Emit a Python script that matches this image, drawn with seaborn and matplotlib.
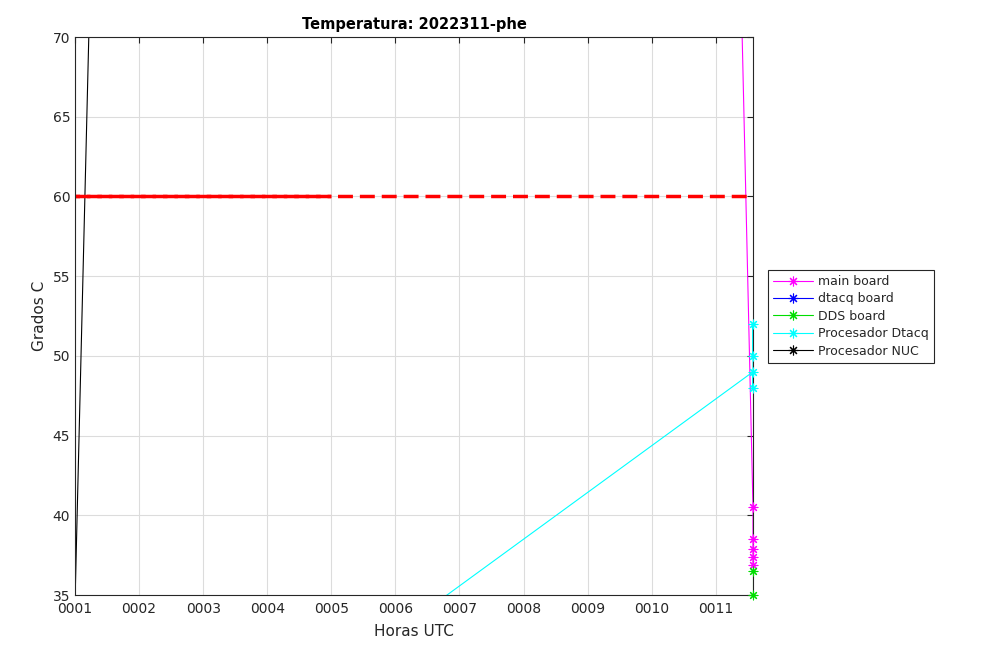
import numpy as np
import pandas as pd
import seaborn as sns
import matplotlib.pyplot as plt
from matplotlib.lines import Line2D

# Datos (horas UTC, grados C)
main_x = [11.40, 11.58, 11.58, 11.58, 11.58, 11.58]
main_y = [72.0, 40.5, 38.5, 37.9, 37.4, 36.9]

dtacq_x = [1.0, 6.0, 11.58]
dtacq_y = [74.0, 75.0, 75.0]

dds_x = [11.58, 11.58]
dds_y = [36.5, 35.0]

proc_dtacq_x = [5.1, 11.58, 11.58, 11.58, 11.58]
proc_dtacq_y = [30.0, 49.0, 48.0, 52.0, 50.0]

nuc_x = [1.0, 1.3]
nuc_y = [34.5, 84.0]

umbral_x = [1.0, 11.58]
umbral_x2 = [1.0, 5.0]
umbral_y = 60.0

horas = list(range(1, 12))
grados = list(range(35, 71, 5))

series = [
    ('main board', main_x, main_y, '#ff00ff'),
    ('dtacq board', dtacq_x, dtacq_y, '#0000ff'),
    ('DDS board', dds_x, dds_y, '#00dd00'),
    ('Procesador Dtacq', proc_dtacq_x, proc_dtacq_y, '#00ffff'),
    ('Procesador NUC', nuc_x, nuc_y, '#000000'),
]

sns.set_theme(style="white")
plt.rcParams['font.family'] = ['DejaVu Sans']

fig = plt.figure(figsize=(10.08, 6.61), dpi=100)
ax = fig.add_axes([0.0744, 0.0998, 0.6726, 0.8442])

ylo, yhi = 35, 70
asterisco = (8, 2, 0)
handles = []
for nombre, xs, ys, color in series:
    df = pd.DataFrame({'x': xs, 'y': ys})
    sns.lineplot(data=df, x='x', y='y', sort=False, estimator=None,
                 color=color, linewidth=0.8, ax=ax)
    vis = df[(df['y'] >= ylo) & (df['y'] <= yhi)]
    if len(vis):
        ax.scatter(vis['x'], vis['y'], marker=asterisco, s=40, color=color,
                   linewidths=0.8, clip_on=False, zorder=4)
    handles.append(Line2D([], [], color=color, linewidth=0.8,
                          marker=asterisco, markersize=7, markeredgewidth=0.8))

# umbral 60 C (dos tramos superpuestos)
for ux, off in ((umbral_x, 0), (umbral_x2, 3.0)):
    sns.lineplot(x=ux, y=[umbral_y] * len(ux), color='#ff0000', linewidth=2.5,
                 ax=ax).lines[-1].set_linestyle((off, (4.3, 2)))

ax.set_xlim(1.0, 11.58)
ax.set_ylim(ylo, yhi)
ax.set_xticks(horas)
ax.set_xticklabels([f"{h:04d}" for h in horas])
ax.set_yticks(grados)

ax.grid(True, color='#dcdcdc', linewidth=0.8)
ax.tick_params(direction='in', length=4, width=0.8, top=True, right=True,
               labelsize=10, color='#262626', labelcolor='#262626')
ax.tick_params(axis='x', pad=5)
for s in ax.spines.values():
    s.set_color('#262626')
    s.set_linewidth(0.8)

ax.set_title('Temperatura: 2022311-phe', fontsize=10.5, fontweight='bold',
             color='black', pad=6)
ax.set_xlabel('Horas UTC', fontsize=11, color='#262626', labelpad=6)
ax.set_ylabel('Grados C', fontsize=11, color='#262626', labelpad=4)

leg = ax.legend(handles, [s[0] for s in series], loc='upper left',
                bbox_to_anchor=(0.762, 0.5915), bbox_transform=fig.transFigure,
                borderaxespad=0, fancybox=False, framealpha=1, fontsize=9,
                handlelength=3.2, labelspacing=0.35, borderpad=0.4,
                handletextpad=0.4)
leg.get_frame().set_edgecolor('#262626')
leg.get_frame().set_linewidth(0.8)

fig.savefig('out.png', dpi=100)
